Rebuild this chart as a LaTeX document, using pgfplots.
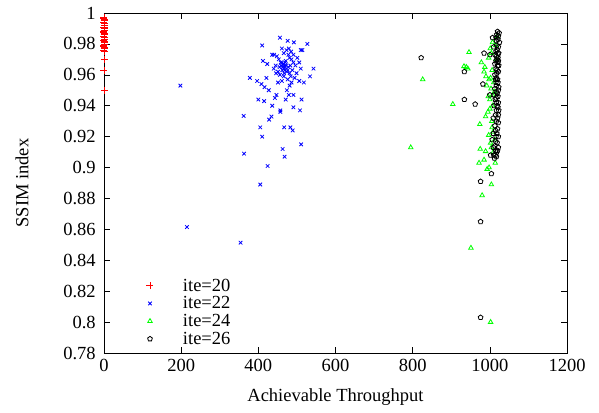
\documentclass[border=0pt]{standalone}
\usepackage{fontspec}
\setmainfont{Liberation Serif}
\usepackage{pgfplots}
\pgfplotsset{compat=1.18}
\begin{document}
\fontsize{18.5}{22}\selectfont
\begin{tikzpicture}[font=\fontsize{18.5}{22}\selectfont]
\pgfplotsset{myleg/.style={legend image code/.code={\path[draw=none,fill=none] (0pt,0pt) -- (43pt,0pt); \draw[##1, only marks] plot coordinates {(12pt,0pt)};}}}
\begin{axis}[
  scale only axis, width=463pt, height=340pt,
  xmin=0, xmax=1200, ymin=0.78, ymax=1,
  xtick={0,200,400,600,800,1000,1200},
  ytick={0.78,0.80,0.82,0.84,0.86,0.88,0.90,0.92,0.94,0.96,0.98,1.00},
  yticklabels={0.78,0.8,0.82,0.84,0.86,0.88,0.9,0.92,0.94,0.96,0.98,1},
  xticklabels={0,200,400,600,800,1000,1200},
  tick align=inside, major tick length=6pt,
  axis line style={line width=0.8pt},
  every tick/.style={black, line width=0.6pt},
  /pgf/number format/assume math mode=true,
  /pgf/number format/1000 sep={},
  every tick label/.append style={font=\fontsize{18.5}{22}\selectfont},
  yticklabel style={xshift=-2pt},
  label style={font=\fontsize{18.5}{22}\selectfont},
  xlabel={Achievable Throughput},
  ylabel={SSIM index},
  xlabel style={at={(axis description cs:0.5,-0.13)}, anchor=center},
  ylabel style={at={(axis description cs:-0.177,0.5)}, anchor=center},
  legend cell align=left,
  legend style={draw=none, fill=none, inner sep=0pt, at={(0.073,0.015)}, anchor=south west,
    font=\fontsize{18.5}{22}\selectfont, row sep=0pt,
    nodes={inner xsep=2pt, inner ysep=2pt, text height=12.2pt, text depth=1.5pt}},
]
\addplot[only marks, myleg, mark=+, color=red, mark size=3.5pt, line width=0.7pt] coordinates {
(0,0.997)(1,0.996)(2,0.995)(0,0.994)(1,0.993)(2,0.992)(0,0.991)(1,0.990)(2,0.989)(0,0.988)
(1,0.987)(2,0.986)(0,0.985)(1,0.984)(2,0.983)(0,0.982)(1,0.981)(2,0.980)(0,0.979)(1,0.978)
(2,0.977)(0,0.976)(1,0.975)(0,0.9965)(2,0.9935)(1,0.9905)(0,0.9875)(2,0.9845)(1,0.9815)(0,0.9785)
(1,0.970)(0,0.963)(1,0.950)
};
\addlegendentry{ite=20}
\addplot[only marks, myleg, mark=x, color=blue, mark size=2.5pt, line width=0.8pt] coordinates {
(198,0.953)(215,0.8615)(354,0.8514)(362,0.9334)(363,0.909)(405,0.889)(424,0.901)(405,0.926)(410,0.920)
(378,0.958)(410,0.979)(397,0.956)(400,0.944)(415,0.943)(412,0.969)(423,0.967)(408,0.954)(416,0.952)
(421,0.958)(427,0.950)(436,0.940)(428,0.931)(434,0.933)(443,0.945)(447,0.947)(441,0.973)(456,0.984)
(476,0.982)(492,0.981)(527,0.980)(510,0.976)(514,0.976)(457,0.937)(457,0.936)(463,0.912)(467,0.926)
(468,0.907)(483,0.926)(489,0.924)(491,0.939)(508,0.937)(511,0.915)(512,0.944)(471,0.944)(479,0.947)
(491,0.947)(474,0.950)(534,0.959)(543,0.964)(510,0.964)(506,0.956)(518,0.955)
(461,0.968)(466,0.967)(469,0.966)(463,0.965)(471,0.969)(476,0.963)(481,0.971)(486,0.970)(491,0.968)
(496,0.966)(481,0.961)(451,0.962)(446,0.961)(456,0.960)(466,0.959)(476,0.957)(486,0.955)(453,0.970)
(448,0.972)(436,0.973)(473,0.976)(479,0.977)(461,0.977)(466,0.974)(491,0.973)(501,0.971)(506,0.968)
(459,0.966)(469,0.963)(484,0.959)(494,0.958)(481,0.953)(461,0.956)(451,0.955)
(464,0.967)(468,0.965)(472,0.966)(466,0.964)(470,0.968)(462,0.963)(474,0.962)(458,0.968)(478,0.965)
(467,0.961)(483,0.966)(488,0.963)(455,0.965)(499,0.961)(445,0.966)(440,0.964)(478,0.973)(485,0.975)
};
\addlegendentry{ite=22}
\addplot[only marks, myleg, mark=triangle, color=green, mark size=2.6pt, line width=0.8pt] coordinates {
(946,0.9746)(826,0.957)(904,0.941)(795,0.913)(951,0.848)(1002,0.800)(933,0.9655)(939,0.965)(943,0.964)
(978,0.968)(974,0.928)(975,0.912)(989,0.9105)(985,0.905)(972,0.903)(993,0.899)(998,0.900)(1004,0.889)
(980,0.882)(1014,0.903)(989,0.933)(995,0.936)(1000,0.944)(985,0.962)(990,0.959)(997,0.971)(1001,0.977)
(992,0.953)(1007,0.981)(1007,0.940)(1010,0.955)(1012,0.949)(1017,0.970)(1015,0.979)(1019,0.985)
(1008,0.923)(1013,0.918)(1005,0.930)(1002,0.916)(1009,0.910)(1007,0.947)(1002,0.958)(996,0.946)(987,0.965)
(1004,0.974)(1006,0.963)(998,0.957)(1003,0.951)(1000,0.938)(1006,0.926)(997,0.921)(1004,0.913)
};
\addlegendentry{ite=24}
\addplot[only marks, myleg, mark=pentagon, color=black, mark size=2.5pt, line width=0.8pt] coordinates {
(822,0.971)(934,0.962)(934,0.944)(962,0.941)(985,0.974)(982,0.954)(976,0.891)(976,0.865)(976,0.803)
(1004,0.896)(1000,0.947)(1000,0.973)(1020,0.988)
(1014,0.908)(1010,0.908)(1017,0.907)(1013,0.914)(1009,0.913)(1016,0.920)(1020,0.925)(1013,0.927)
(1020,0.932)(1009,0.932)(1017,0.937)(1019,0.940)(1014,0.944)(1019,0.948)(1013,0.951)(1020,0.957)
(1013,0.960)(1019,0.963)(1013,0.967)(1019,0.970)(1013,0.973)(1019,0.976)(1010,0.978)(1017,0.982)
(1022,0.985)(1007,0.984)(1024,0.987)(1025,0.981)(1023,0.974)(1023,0.966)(1023,0.952)(1023,0.937)
(1009,0.922)(1006,0.918)(1020,0.911)(1002,0.908)(1021,0.971)(1021,0.968)(1017,0.958)(1017,0.953)
(1011,0.947)(1011,0.940)
(1018,0.986)(1016,0.984)(1021,0.983)(1018,0.979)(1022,0.978)(1016,0.975)(1021,0.974)(1017,0.972)
(1022,0.969)(1016,0.969)(1020,0.966)(1016,0.964)(1022,0.962)(1018,0.961)(1015,0.957)(1021,0.955)
(1016,0.955)(1022,0.950)(1017,0.949)(1021,0.946)(1016,0.945)(1022,0.942)(1017,0.942)(1021,0.939)
(1015,0.934)(1022,0.934)(1017,0.930)(1022,0.929)(1015,0.924)(1018,0.922)(1022,0.920)(1015,0.917)
(1019,0.916)(1022,0.913)(1015,0.911)(1018,0.910)(1012,0.906)
};
\addlegendentry{ite=26}
\end{axis}
\path (current axis.south west) ++(-104pt,-59pt) rectangle ++(599pt,412pt);
\end{tikzpicture}
\end{document}
